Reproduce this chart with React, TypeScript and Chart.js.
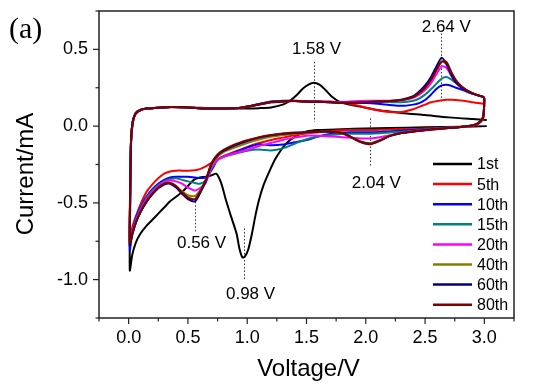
import React, { useEffect, useRef } from "react";
import { Chart, registerables } from "chart.js";

Chart.register(...registerables);

// ---------- data ----------
const cycleLabels = ["1st", "5th", "10th", "15th", "20th", "40th", "60th", "80th"];
const cycleColors = ["#000000", "#ff0000", "#0000ff", "#008080", "#ff00ff", "#808000", "#000080", "#800000"];

// first cycle (own voltage grid)
const v1Cathodic = [3.02, 2.8, 2.5, 2.2, 2.0, 1.8, 1.6, 1.5, 1.4, 1.32, 1.24, 1.19, 1.14, 1.1, 1.07, 1.04, 1.01, 0.98, 0.96, 0.935, 0.91, 0.86, 0.82, 0.78, 0.74, 0.7, 0.65, 0.6, 0.55, 0.5, 0.45, 0.4, 0.35, 0.3, 0.25, 0.2, 0.15, 0.1, 0.06, 0.03, 0.01];
const i1Cathodic = [0.0, -0.004, -0.008, -0.012, -0.015, -0.02, -0.025, -0.035, -0.07, -0.12, -0.21, -0.29, -0.38, -0.48, -0.58, -0.7, -0.8, -0.85, -0.855, -0.8, -0.7, -0.58, -0.48, -0.37, -0.31, -0.32, -0.33, -0.335, -0.35, -0.39, -0.43, -0.46, -0.49, -0.53, -0.57, -0.61, -0.65, -0.7, -0.76, -0.84, -0.94];
const v1Anodic = [0.012, 0.02, 0.035, 0.06, 0.1, 0.15, 0.25, 0.4, 0.6, 0.8, 1.0, 1.1, 1.2, 1.3, 1.36, 1.42, 1.47, 1.52, 1.56, 1.61, 1.66, 1.71, 1.78, 1.85, 1.95, 2.1, 2.3, 2.5, 2.7, 2.9, 3.02];
const i1Anodic = [-0.6, -0.12, 0.02, 0.08, 0.105, 0.115, 0.12, 0.125, 0.12, 0.115, 0.115, 0.117, 0.122, 0.14, 0.165, 0.205, 0.245, 0.272, 0.283, 0.27, 0.235, 0.195, 0.158, 0.142, 0.128, 0.105, 0.086, 0.072, 0.057, 0.046, 0.04];

// later cycles: shared voltage grids
const vCathodic = [3.0, 2.99, 2.95, 2.9, 2.8, 2.7, 2.6, 2.5, 2.4, 2.3, 2.2, 2.12, 2.04, 1.96, 1.88, 1.8, 1.7, 1.6, 1.5, 1.4, 1.3, 1.2, 1.1, 1.0, 0.9, 0.8, 0.75, 0.7, 0.65, 0.6, 0.56, 0.5, 0.45, 0.4, 0.35, 0.3, 0.25, 0.2, 0.15, 0.1, 0.06, 0.03, 0.01];
const vAnodic = [0.012, 0.02, 0.035, 0.06, 0.1, 0.15, 0.25, 0.35, 0.5, 0.65, 0.8, 0.95, 1.1, 1.2, 1.3, 1.4, 1.5, 1.6, 1.7, 1.8, 1.9, 2.0, 2.1, 2.2, 2.3, 2.4, 2.45, 2.5, 2.55, 2.6, 2.64, 2.68, 2.72, 2.76, 2.8, 2.85, 2.9, 2.95, 2.99, 3.0];

const i5Cathodic = [0.14, 0.05, 0.015, 0.0, -0.005, -0.009, -0.012, -0.015, -0.018, -0.02, -0.022, -0.024, -0.025, -0.025, -0.025, -0.027, -0.032, -0.04, -0.048, -0.06, -0.075, -0.09, -0.11, -0.135, -0.165, -0.195, -0.215, -0.24, -0.262, -0.28, -0.287, -0.29, -0.29, -0.29, -0.295, -0.31, -0.34, -0.38, -0.43, -0.51, -0.59, -0.66, -0.74];
const i5Anodic = [-0.45, -0.1, 0.03, 0.085, 0.105, 0.115, 0.12, 0.125, 0.122, 0.115, 0.115, 0.12, 0.14, 0.155, 0.16, 0.163, 0.16, 0.16, 0.158, 0.155, 0.14, 0.12, 0.103, 0.092, 0.092, 0.11, 0.125, 0.14, 0.155, 0.163, 0.168, 0.172, 0.172, 0.17, 0.167, 0.162, 0.156, 0.15, 0.146, 0.14];

const i10Cathodic = [0.18, 0.06, 0.02, 0.005, -0.005, -0.01, -0.015, -0.02, -0.025, -0.03, -0.035, -0.038, -0.04, -0.04, -0.04, -0.042, -0.052, -0.068, -0.09, -0.105, -0.12, -0.125, -0.118, -0.14, -0.17, -0.2, -0.22, -0.285, -0.335, -0.338, -0.335, -0.33, -0.33, -0.33, -0.335, -0.35, -0.375, -0.41, -0.46, -0.53, -0.6, -0.69, -0.81];
const i10Anodic = [-0.55, -0.1, 0.03, 0.085, 0.105, 0.115, 0.12, 0.125, 0.122, 0.115, 0.115, 0.12, 0.145, 0.16, 0.165, 0.165, 0.162, 0.16, 0.158, 0.155, 0.153, 0.15, 0.145, 0.138, 0.132, 0.14, 0.15, 0.17, 0.205, 0.245, 0.265, 0.27, 0.263, 0.25, 0.24, 0.225, 0.21, 0.2, 0.19, 0.18];

const i15Cathodic = [0.18, 0.06, 0.02, 0.005, -0.005, -0.01, -0.015, -0.022, -0.03, -0.036, -0.042, -0.047, -0.05, -0.05, -0.05, -0.052, -0.058, -0.067, -0.085, -0.115, -0.145, -0.158, -0.152, -0.16, -0.18, -0.2, -0.22, -0.275, -0.355, -0.375, -0.37, -0.36, -0.35, -0.34, -0.345, -0.36, -0.385, -0.42, -0.47, -0.54, -0.61, -0.69, -0.78];
const i15Anodic = [-0.5, -0.1, 0.03, 0.085, 0.105, 0.115, 0.12, 0.125, 0.122, 0.115, 0.115, 0.12, 0.142, 0.157, 0.162, 0.163, 0.16, 0.158, 0.155, 0.155, 0.157, 0.16, 0.16, 0.157, 0.155, 0.165, 0.18, 0.205, 0.24, 0.28, 0.31, 0.32, 0.305, 0.28, 0.26, 0.235, 0.215, 0.2, 0.19, 0.18];

const i20Cathodic = [0.18, 0.06, 0.02, 0.005, -0.005, -0.012, -0.02, -0.028, -0.036, -0.045, -0.06, -0.073, -0.08, -0.08, -0.076, -0.072, -0.067, -0.062, -0.062, -0.075, -0.09, -0.11, -0.13, -0.155, -0.175, -0.2, -0.22, -0.265, -0.37, -0.405, -0.42, -0.4, -0.375, -0.36, -0.355, -0.365, -0.39, -0.43, -0.48, -0.55, -0.62, -0.69, -0.76];
const i20Anodic = [-0.5, -0.1, 0.03, 0.085, 0.105, 0.115, 0.12, 0.125, 0.122, 0.115, 0.115, 0.12, 0.142, 0.158, 0.163, 0.165, 0.162, 0.16, 0.158, 0.158, 0.162, 0.165, 0.166, 0.165, 0.168, 0.185, 0.205, 0.235, 0.28, 0.345, 0.39, 0.38, 0.33, 0.285, 0.255, 0.23, 0.213, 0.2, 0.19, 0.18];

const i40Cathodic = [0.18, 0.06, 0.02, 0.005, -0.005, -0.012, -0.018, -0.025, -0.035, -0.045, -0.063, -0.09, -0.11, -0.1, -0.072, -0.046, -0.038, -0.038, -0.043, -0.05, -0.058, -0.07, -0.087, -0.11, -0.138, -0.17, -0.2, -0.25, -0.35, -0.42, -0.455, -0.45, -0.425, -0.39, -0.37, -0.375, -0.4, -0.44, -0.49, -0.56, -0.63, -0.71, -0.78];
const i40Anodic = [-0.5, -0.1, 0.03, 0.085, 0.105, 0.115, 0.12, 0.125, 0.122, 0.115, 0.115, 0.12, 0.142, 0.157, 0.162, 0.163, 0.16, 0.158, 0.155, 0.153, 0.154, 0.157, 0.16, 0.163, 0.17, 0.19, 0.215, 0.25, 0.305, 0.375, 0.42, 0.405, 0.345, 0.29, 0.26, 0.232, 0.213, 0.2, 0.19, 0.18];

const i60Cathodic = [0.18, 0.06, 0.02, 0.005, -0.005, -0.012, -0.018, -0.025, -0.035, -0.045, -0.065, -0.093, -0.115, -0.103, -0.073, -0.045, -0.036, -0.036, -0.04, -0.045, -0.05, -0.06, -0.075, -0.097, -0.125, -0.162, -0.19, -0.245, -0.36, -0.44, -0.49, -0.475, -0.44, -0.4, -0.375, -0.38, -0.405, -0.445, -0.495, -0.56, -0.63, -0.71, -0.78];
const i60Anodic = [-0.5, -0.1, 0.03, 0.085, 0.105, 0.115, 0.12, 0.125, 0.122, 0.115, 0.115, 0.12, 0.142, 0.157, 0.162, 0.163, 0.16, 0.158, 0.155, 0.152, 0.153, 0.156, 0.16, 0.163, 0.172, 0.195, 0.225, 0.265, 0.32, 0.395, 0.445, 0.405, 0.335, 0.285, 0.255, 0.23, 0.212, 0.2, 0.19, 0.18];

const i80Cathodic = [0.18, 0.06, 0.02, 0.005, -0.005, -0.012, -0.018, -0.025, -0.035, -0.045, -0.065, -0.095, -0.118, -0.105, -0.075, -0.045, -0.035, -0.035, -0.038, -0.042, -0.048, -0.058, -0.072, -0.092, -0.118, -0.155, -0.185, -0.24, -0.35, -0.43, -0.475, -0.465, -0.43, -0.39, -0.37, -0.375, -0.4, -0.44, -0.49, -0.56, -0.63, -0.7, -0.76];
const i80Anodic = [-0.45, -0.1, 0.03, 0.085, 0.105, 0.115, 0.12, 0.125, 0.122, 0.115, 0.115, 0.12, 0.14, 0.155, 0.16, 0.163, 0.16, 0.158, 0.155, 0.152, 0.152, 0.155, 0.16, 0.163, 0.17, 0.19, 0.215, 0.25, 0.3, 0.37, 0.42, 0.418, 0.355, 0.3, 0.265, 0.235, 0.215, 0.2, 0.19, 0.18];

// peak annotations (data units)
const peakTexts = ["1.58 V", "2.64 V", "2.04 V", "0.56 V", "0.98 V"];
const peakTextV = [1.584, 2.679, 2.089, 0.615, 1.028];
const peakTextI = [0.505, 0.651, -0.368, -0.756, -1.088];
const peakLineV = [1.561, 2.634, 2.036, 0.556, 0.972];
const peakLineFrom = [0.419, 0.604, 0.05, -0.493, -0.667];
const peakLineTo = [0.028, 0.158, -0.265, -0.689, -1.003];

// axes
const xMin = -0.25, xMax = 3.25, yMin = -1.25, yMax = 0.75, tickStep = 0.25;
const xTitle = "Voltage/V";
const yTitle = "Current/mA";
const panelLabel = "(a)";

// ---------- helpers ----------
function toPoints(vs: number[], is: number[]) {
  return vs.map((v, k) => ({ x: v, y: is[k] }));
}
function loop(vc: number[], ic: number[], va: number[], ia: number[]) {
  return [...toPoints(vc, ic), ...toPoints(va, ia)];
}
const isMajor = (v: number) => Math.abs(v * 2 - Math.round(v * 2)) < 1e-6;

const SANS = '"Liberation Sans", Arial, Helvetica, sans-serif';

const decorPlugin = {
  id: "decor",
  beforeDatasetsDraw(chart: any) {
    const ctx = chart.ctx;
    const xs = chart.scales.x, ys = chart.scales.y;
    ctx.save();
    ctx.strokeStyle = "#333";
    ctx.lineWidth = 1;
    ctx.setLineDash([1.5, 2]);
    peakLineV.forEach((v, k) => {
      const px = Math.round(xs.getPixelForValue(v)) + 0.5;
      ctx.beginPath();
      ctx.moveTo(px, ys.getPixelForValue(peakLineFrom[k]));
      ctx.lineTo(px, ys.getPixelForValue(peakLineTo[k]));
      ctx.stroke();
    });
    ctx.restore();
  },
  afterDraw(chart: any) {
    const ctx = chart.ctx;
    const { left, right, top, bottom } = chart.chartArea;
    const xs = chart.scales.x, ys = chart.scales.y;
    ctx.save();
    // frame
    ctx.strokeStyle = "#222";
    ctx.lineWidth = 1.5;
    ctx.strokeRect(left, top, right - left, bottom - top);
    // tick marks
    ctx.lineWidth = 1.2;
    xs.ticks.forEach((t: any) => {
      const px = xs.getPixelForValue(t.value);
      const len = isMajor(t.value) ? 6 : 3.5;
      ctx.beginPath();
      ctx.moveTo(px, bottom);
      ctx.lineTo(px, bottom + len);
      ctx.stroke();
    });
    ys.ticks.forEach((t: any) => {
      const py = ys.getPixelForValue(t.value);
      const len = isMajor(t.value) ? 6 : 3.5;
      ctx.beginPath();
      ctx.moveTo(left, py);
      ctx.lineTo(left - len, py);
      ctx.stroke();
    });
    // peak labels
    ctx.fillStyle = "#000";
    ctx.font = `17px ${SANS}`;
    ctx.textAlign = "center";
    ctx.textBaseline = "middle";
    peakTexts.forEach((s, k) => {
      ctx.fillText(s, xs.getPixelForValue(peakTextV[k]), ys.getPixelForValue(peakTextI[k]) + 1);
    });
    // legend
    ctx.font = `16px ${SANS}`;
    ctx.textAlign = "left";
    ctx.textBaseline = "middle";
    chart.data.datasets.forEach((ds: any, k: number) => {
      const y = top + 153 + k * 20.1;
      ctx.strokeStyle = ds.borderColor;
      ctx.lineWidth = 2.5;
      ctx.beginPath();
      ctx.moveTo(right - 81, y);
      ctx.lineTo(right - 42, y);
      ctx.stroke();
      ctx.fillStyle = "#000";
      ctx.fillText(ds.label, right - 37, y + 1);
    });
    // axis titles
    ctx.font = `24px ${SANS}`;
    ctx.textAlign = "center";
    ctx.textBaseline = "alphabetic";
    ctx.fillText(xTitle, (left + right) / 2 + 2, 376);
    ctx.save();
    ctx.translate(33, 174);
    ctx.rotate(-Math.PI / 2);
    ctx.fillText(yTitle, 0, 0);
    ctx.restore();
    // panel label
    ctx.font = `30px "Liberation Serif", "Times New Roman", serif`;
    ctx.textAlign = "left";
    ctx.fillText(panelLabel, 9, 38);
    ctx.restore();
  },
};

export default function App() {
  const ref = useRef<HTMLCanvasElement | null>(null);
  useEffect(() => {
    if (!ref.current) return;
    Chart.defaults.font.family = SANS;
    const series = [
      loop(v1Cathodic, i1Cathodic, v1Anodic, i1Anodic),
      loop(vCathodic, i5Cathodic, vAnodic, i5Anodic),
      loop(vCathodic, i10Cathodic, vAnodic, i10Anodic),
      loop(vCathodic, i15Cathodic, vAnodic, i15Anodic),
      loop(vCathodic, i20Cathodic, vAnodic, i20Anodic),
      loop(vCathodic, i40Cathodic, vAnodic, i40Anodic),
      loop(vCathodic, i60Cathodic, vAnodic, i60Anodic),
      loop(vCathodic, i80Cathodic, vAnodic, i80Anodic),
    ];
    const chart = new Chart(ref.current, {
      type: "scatter",
      data: {
        datasets: series.map((pts, k) => ({
          label: cycleLabels[k],
          data: pts,
          showLine: true,
          borderColor: cycleColors[k],
          backgroundColor: cycleColors[k],
          borderWidth: 2,
          pointRadius: 0,
          tension: 0.25,
          fill: false,
          order: series.length - k,
        })),
      },
      options: {
        animation: false,
        responsive: false,
        maintainAspectRatio: false,
        devicePixelRatio: 1,
        layout: { padding: { top: 11, right: 22, left: 0, bottom: 0 } },
        plugins: { legend: { display: false }, tooltip: { enabled: false }, title: { display: false } },
        scales: {
          x: {
            type: "linear",
            min: xMin,
            max: xMax,
            grid: { display: false, drawTicks: false },
            border: { display: false },
            ticks: {
              stepSize: tickStep,
              autoSkip: false,
              maxRotation: 0,
              padding: 9,
              color: "#000",
              font: { size: 18 },
              callback: (v: any) => (isMajor(Number(v)) ? Number(v).toFixed(1) : ""),
            },
            afterFit: (s: any) => {
              s.height = 67;
              s.paddingLeft = 0;
              s.paddingRight = 0;
              s.paddingTop = 0;
              s.paddingBottom = 0;
            },
          },
          y: {
            type: "linear",
            min: yMin,
            max: yMax,
            grid: { display: false, drawTicks: false },
            border: { display: false },
            ticks: {
              stepSize: tickStep,
              autoSkip: false,
              padding: 11,
              color: "#000",
              font: { size: 18 },
              callback: (v: any) => (isMajor(Number(v)) ? Number(v).toFixed(1) : ""),
            },
            afterFit: (s: any) => {
              s.width = 99;
              s.paddingLeft = 0;
              s.paddingRight = 0;
              s.paddingTop = 0;
              s.paddingBottom = 0;
            },
          },
        },
      },
      plugins: [decorPlugin],
    });
    return () => chart.destroy();
  }, []);
  return (
    <div style={{ position: "fixed", left: 0, top: 0, width: 536, height: 385, background: "#fff" }}>
      <canvas ref={ref} width={536} height={385} style={{ display: "block" }} />
    </div>
  );
}
